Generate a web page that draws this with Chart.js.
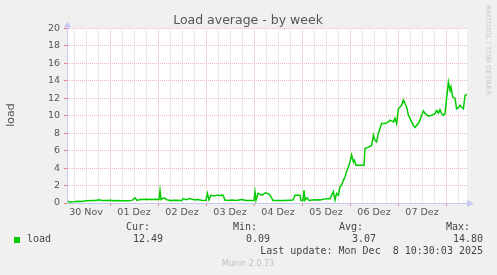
<!DOCTYPE html>
<html>
<head>
<meta charset="utf-8">
<script src="https://cdn.jsdelivr.net/npm/chart.js@4/dist/chart.umd.min.js"></script>
<style>
  html, body { margin: 0; padding: 0; background: #f0f0f0; }
  canvas { display: block; }
</style>
</head>
<body>
<canvas id="loadChart" width="497" height="275"></canvas>
<script>
// hours counted from 30 Nov 00:00
const hours = [
  2.5, 3, 4, 6, 8, 10, 12, 13, 15, 17, 18.5, 20, 22, 24, 26, 28, 30, 33, 35, 36.5,
  37.5, 39, 42, 45, 47, 48.5, 49, 49.5, 51, 52.5, 54, 57, 60, 60.5, 62, 64, 66, 68, 70, 72,
  72.7, 73.5, 74.5, 76, 77.5, 79, 80.5, 81.5, 83, 85, 87, 90, 92, 96, 96.5, 97, 98, 100, 101.5, 103,
  104, 105.5, 108, 111, 115.5, 116.5, 119, 119.5, 120.5, 121, 121.5, 122.5, 123.5, 125, 128, 129, 132.3, 134, 135.7, 136.5,
  137.3, 138.2, 139, 139.8, 140.7, 141.5, 142.3, 143.2, 144, 144.8, 145.7, 146.2, 147, 151, 151.5, 153.2, 154.8, 155.7, 156.5, 157.3,
  158.2, 159.8, 161.5, 163.2, 164, 165.7, 166.5, 167.3, 168.2, 169, 169.8, 170.7, 171.5, 172.3, 173.2, 174, 174.8, 175.7, 176.5, 177.3,
  178.2, 179, 179.8, 180.7, 181.5, 183.2, 184.8, 186.5, 187.3, 188.2, 189, 189.8, 190.7, 191.5, 192.3, 193.2, 194, 194.5, 195.3, 196.5,
  197.3, 198.2, 199, 199.8, 200.7, 201.5, 202.5
];
const load = [
  0.45, 0.15, 0.12, 0.15, 0.2, 0.18, 0.25, 0.25, 0.3, 0.28, 0.38, 0.3, 0.3, 0.32, 0.27, 0.3, 0.25, 0.25, 0.3, 0.6,
  0.3, 0.4, 0.42, 0.4, 0.42, 0.4, 1.45, 0.4, 0.6, 0.38, 0.3, 0.32, 0.3, 0.5, 0.38, 0.5, 0.38, 0.4, 0.3, 0.32,
  1.1, 0.35, 0.9, 0.8, 0.9, 0.85, 0.9, 0.35, 0.3, 0.35, 0.3, 0.4, 0.3, 0.28, 1.27, 0.3, 1.1, 0.9, 1.15, 1.1,
  0.9, 0.3, 0.3, 0.3, 0.35, 0.9, 0.9, 0.3, 0.3, 1.45, 0.3, 0.6, 0.3, 0.35, 0.38, 0.34, 0.5, 0.5, 1.3, 0.34,
  1.1, 0.9, 1.87, 2.05, 2.6, 3.0, 3.6, 4.15, 4.7, 5.5, 4.7, 4.9, 4.34, 4.34, 6.25, 6.4, 6.6, 7.77, 7.2, 7.0,
  8.0, 9.1, 9.1, 9.3, 9.5, 9.3, 9.7, 9.1, 10.8, 11.0, 11.2, 11.8, 11.4, 11.0, 10.06, 9.7, 9.3, 8.9, 8.65, 8.9,
  9.1, 9.5, 10.06, 10.55, 10.3, 9.95, 10.06, 10.25, 10.6, 10.3, 10.7, 10.25, 10.06, 10.25, 12.0, 13.86, 12.9, 13.3, 12.2, 12.0,
  10.8, 10.9, 11.2, 11.0, 10.8, 12.3, 12.49
];
const dayLabels = ['30 Nov', '01 Dez', '02 Dez', '03 Dez', '04 Dez', '05 Dez', '06 Dez', '07 Dez'];
const statNames = ['Cur:', 'Min:', 'Avg:', 'Max:'];
const statValues = ['12.49', '0.09', '3.07', '14.80'];

const RED_GRID = '#ebb8b8';
const GRAY_GRID = '#d6d6d6';
const AXIS = '#c8c8f4';

Chart.defaults.font.family = 'DejaVu Sans';

// white plot area, arrows and all the rrdtool/munin texts
const munin = {
  id: 'munin',
  beforeDraw(chart) {
    const { ctx, chartArea: a } = chart;
    ctx.save();
    ctx.fillStyle = '#f0f0f0';
    ctx.fillRect(0, 0, chart.width, chart.height);
    ctx.fillStyle = '#ffffff';
    ctx.fillRect(a.left, a.top, a.right - a.left, a.bottom - a.top);
    ctx.restore();
  },
  afterDraw(chart) {
    const { ctx, chartArea: a } = chart;
    ctx.save();
    // axis arrows
    ctx.fillStyle = AXIS;
    ctx.beginPath();
    ctx.moveTo(a.left - 3, a.top - 1);
    ctx.lineTo(a.left + 4, a.top - 1);
    ctx.lineTo(a.left + 0.5, a.top - 7);
    ctx.fill();
    ctx.beginPath();
    ctx.moveTo(a.right, a.bottom - 3);
    ctx.lineTo(a.right, a.bottom + 4);
    ctx.lineTo(a.right + 7, a.bottom + 0.5);
    ctx.fill();

    // title
    ctx.fillStyle = '#555';
    ctx.font = '12.5px "DejaVu Sans"';
    ctx.textAlign = 'center';
    ctx.textBaseline = 'alphabetic';
    ctx.fillText('Load average - by week', 248, 24);

    // y axis title
    ctx.save();
    ctx.translate(13.5, 115);
    ctx.rotate(-Math.PI / 2);
    ctx.font = '11px "DejaVu Sans"';
    ctx.fillStyle = '#555';
    ctx.fillText('load', 0, 0);
    ctx.restore();

    // watermark
    ctx.save();
    ctx.translate(485.5, 5);
    ctx.rotate(Math.PI / 2);
    ctx.font = '7px "DejaVu Sans"';
    ctx.fillStyle = '#c8c8c8';
    ctx.textAlign = 'left';
    ctx.fillText('RRDTOOL / TOBI OETIKER', 0, 0);
    ctx.restore();

    // legend
    ctx.font = '10px "DejaVu Sans Mono"';
    ctx.fillStyle = '#444';
    ctx.textBaseline = 'middle';
    const nameRight = [150, 257, 363, 470];
    const valRight = [163, 270, 376, 483];
    ctx.textAlign = 'right';
    statNames.forEach((n, i) => ctx.fillText(n, nameRight[i], 227.5));
    statValues.forEach((v, i) => ctx.fillText(v, valRight[i], 239.5));
    ctx.fillText('Last update: Mon Dec  8 10:30:03 2025', 483, 251.5);
    ctx.textAlign = 'left';
    ctx.fillText('load', 27, 239.5);
    ctx.fillStyle = '#00cc00';
    ctx.fillRect(14, 237, 6, 6);

    ctx.font = '8px "DejaVu Sans"';
    ctx.fillStyle = '#c0c0c0';
    ctx.textAlign = 'center';
    ctx.fillText('Munin 2.0.73', 248, 264);
    ctx.restore();
  }
};

new Chart(document.getElementById('loadChart'), {
  type: 'line',
  data: {
    datasets: [{
      label: 'load',
      data: hours.map((h, i) => ({ x: h, y: load[i] })),
      borderColor: '#00cc00',
      borderWidth: 1.5,
      pointRadius: 0,
      tension: 0,
      fill: false
    }]
  },
  options: {
    responsive: false,
    animation: false,
    devicePixelRatio: 1,
    layout: { padding: { left: 0, top: 28.5, right: 30, bottom: 52 } },
    plugins: { legend: { display: false }, tooltip: { enabled: false } },
    scales: {
      x: {
        type: 'linear',
        min: 2.5,
        max: 202.5,
        afterBuildTicks(scale) {
          const t = [];
          for (let v = 6; v < 202.5; v += 6) t.push({ value: v });
          scale.ticks = t;
        },
        afterFit(scale) { scale.height = 20; },
        ticks: {
          autoSkip: false,
          maxRotation: 0,
          padding: 1,
          color: '#555',
          font: { size: 9.5 },
          callback: v => (v % 24 === 12 ? dayLabels[(v - 12) / 24] : '')
        },
        grid: {
          color: c => (c.tick && c.tick.value % 24 === 0 ? RED_GRID : GRAY_GRID),
          tickColor: c => (c.tick && c.tick.value % 24 === 0 ? '#e08080' : 'rgba(0,0,0,0)'),
          tickLength: 3,
          lineWidth: 1
        },
        border: { color: AXIS, dash: [1, 1], z: 1 }
      },
      y: {
        min: 0,
        max: 20,
        afterFit(scale) { scale.width = 67; },
        ticks: {
          stepSize: 1,
          padding: 4,
          color: '#555',
          font: { size: 9.5 },
          callback: v => (v % 2 === 0 ? v : '')
        },
        grid: {
          color: c => (c.tick && c.tick.value % 2 === 0 ? RED_GRID : GRAY_GRID),
          tickColor: c => (c.tick && c.tick.value % 2 === 0 ? '#e08080' : '#cccccc'),
          tickLength: 3,
          lineWidth: 1
        },
        border: { color: AXIS, dash: [1, 1], z: 1 }
      }
    }
  },
  plugins: [munin]
});
</script>
</body>
</html>
